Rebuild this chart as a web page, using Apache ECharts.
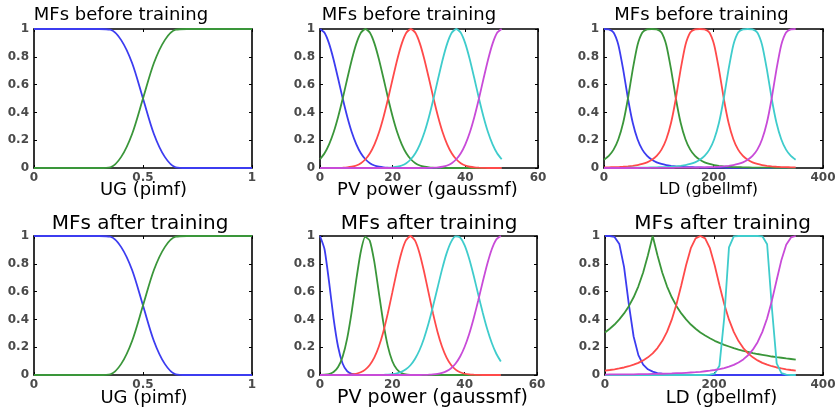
<!DOCTYPE html>
<html>
<head>
<meta charset="utf-8">
<script src="https://cdn.jsdelivr.net/npm/echarts@6/dist/echarts.min.js"></script>
<style>html,body{margin:0;padding:0;background:#fff}#c{width:839px;height:416px}</style>
</head>
<body>
<div id="c"></div>
<script>
// ---- sample positions (x) ----
const ugX = [0,0.05,0.1,0.15,0.2,0.25,0.3,0.35,0.4,0.45,0.5,0.55,0.6,0.65,0.7,0.75,0.8,0.85,0.9,0.95,1];
const pvX = [0,1.25,2.5,3.75,5,6.25,7.5,8.75,10,11.25,12.5,13.75,15,16.25,17.5,18.75,20,21.25,22.5,23.75,25,26.25,27.5,28.75,30,31.25,32.5,33.75,35,36.25,37.5,38.75,40,41.25,42.5,43.75,45,46.25,47.5,48.75,50];
const ldX = [0,8.75,17.5,26.25,35,43.75,52.5,61.25,70,78.75,87.5,96.25,105,113.75,122.5,131.25,140,148.75,157.5,166.25,175,183.75,192.5,201.25,210,218.75,227.5,236.25,245,253.75,262.5,271.25,280,288.75,297.5,306.25,315,323.75,332.5,341.25,350];

// ---- UG (pimf) before training ----
const ugLowBefore  = [1,1,1,1,1,1,1,0.995,0.92,0.755,0.5,0.245,0.08,0.005,0,0,0,0,0,0,0];
const ugHighBefore = [0,0,0,0,0,0,0,0.005,0.08,0.245,0.5,0.755,0.92,0.995,1,1,1,1,1,1,1];
// ---- UG (pimf) after training ----
const ugLowAfter  = [1,1,1,1,1,1,1,0.995,0.92,0.755,0.5,0.245,0.08,0.005,0,0,0,0,0,0,0];
const ugHighAfter = [0,0,0,0,0,0,0,0.005,0.08,0.245,0.5,0.755,0.92,0.995,1,1,1,1,1,1,1];

// ---- PV power (gaussmf) before training ----
const pvB1 = [1,0.973,0.895,0.779,0.642,0.5,0.369,0.257,0.17,0.106,0.063,0.035,0.018,0.009,0.004,0.002,0.001,0,0,0,0,0,0,0,0,0,0,0,0,0,0,0,0,0,0,0,0,0,0,0,0];
const pvB2 = [0.063,0.106,0.17,0.257,0.369,0.5,0.642,0.779,0.895,0.973,1,0.973,0.895,0.779,0.642,0.5,0.369,0.257,0.17,0.106,0.063,0.035,0.018,0.009,0.004,0.002,0.001,0,0,0,0,0,0,0,0,0,0,0,0,0,0];
const pvB3 = [0,0,0,0,0.001,0.002,0.004,0.009,0.018,0.035,0.063,0.106,0.17,0.257,0.369,0.5,0.642,0.779,0.895,0.973,1,0.973,0.895,0.779,0.642,0.5,0.369,0.257,0.17,0.106,0.063,0.035,0.018,0.009,0.004,0.002,0.001,0,0,0,0];
const pvB4 = [0,0,0,0,0,0,0,0,0,0,0,0,0,0,0.001,0.002,0.004,0.009,0.018,0.035,0.063,0.106,0.17,0.257,0.369,0.5,0.642,0.779,0.895,0.973,1,0.973,0.895,0.779,0.642,0.5,0.369,0.257,0.17,0.106,0.063];
const pvB5 = [0,0,0,0,0,0,0,0,0,0,0,0,0,0,0,0,0,0,0,0,0,0,0,0,0.001,0.002,0.004,0.009,0.018,0.035,0.063,0.106,0.17,0.257,0.369,0.5,0.642,0.779,0.895,0.973,1];

// ---- PV power (gaussmf) after training ----
const pvA1 = [1,0.905,0.671,0.408,0.203,0.083,0.028,0.008,0.002,0,0,0,0,0,0,0,0,0,0,0,0,0,0,0,0,0,0,0,0,0,0,0,0,0,0,0,0,0,0,0,0];
const pvA2 = [0,0.002,0.007,0.021,0.057,0.131,0.262,0.453,0.68,0.883,0.993,0.967,0.817,0.597,0.379,0.208,0.099,0.041,0.015,0.004,0.001,0,0,0,0,0,0,0,0,0,0,0,0,0,0,0,0,0,0,0,0];
const pvA3 = [0,0,0,0,0,0.001,0.002,0.004,0.009,0.02,0.039,0.072,0.125,0.203,0.31,0.443,0.594,0.746,0.878,0.968,1,0.968,0.878,0.746,0.594,0.443,0.31,0.203,0.125,0.072,0.039,0.02,0.009,0.004,0.002,0.001,0,0,0,0,0];
const pvA4 = [0,0,0,0,0,0,0,0,0,0,0,0,0,0,0.001,0.003,0.006,0.012,0.023,0.041,0.07,0.115,0.178,0.263,0.37,0.494,0.628,0.76,0.875,0.958,0.997,0.989,0.932,0.836,0.714,0.579,0.448,0.329,0.23,0.153,0.097];
const pvA5 = [0,0,0,0,0,0,0,0,0,0,0,0,0,0,0,0,0,0,0,0,0,0,0,0.001,0.002,0.004,0.008,0.015,0.028,0.049,0.083,0.133,0.203,0.295,0.408,0.536,0.671,0.799,0.905,0.975,1];

// ---- LD (gbellmf) before training ----
const ldB1 = [1,0.998,0.975,0.885,0.709,0.5,0.325,0.207,0.132,0.087,0.059,0.041,0.029,0.021,0.016,0.012,0.009,0.007,0.006,0.005,0.004,0.003,0.003,0.002,0.002,0.002,0.001,0.001,0.001,0.001,0.001,0.001,0.001,0,0,0,0,0,0,0,0];
const ldB2 = [0.059,0.087,0.132,0.207,0.325,0.5,0.709,0.885,0.975,0.998,1,0.998,0.975,0.885,0.709,0.5,0.325,0.207,0.132,0.087,0.059,0.041,0.029,0.021,0.016,0.012,0.009,0.007,0.006,0.005,0.004,0.003,0.003,0.002,0.002,0.002,0.001,0.001,0.001,0.001,0.001];
const ldB3 = [0.004,0.005,0.006,0.007,0.009,0.012,0.016,0.021,0.029,0.041,0.059,0.087,0.132,0.207,0.325,0.5,0.709,0.885,0.975,0.998,1,0.998,0.975,0.885,0.709,0.5,0.325,0.207,0.132,0.087,0.059,0.041,0.029,0.021,0.016,0.012,0.009,0.007,0.006,0.005,0.004];
const ldB4 = [0.001,0.001,0.001,0.001,0.001,0.002,0.002,0.002,0.003,0.003,0.004,0.005,0.006,0.007,0.009,0.012,0.016,0.021,0.029,0.041,0.059,0.087,0.132,0.207,0.325,0.5,0.709,0.885,0.975,0.998,1,0.998,0.975,0.885,0.709,0.5,0.325,0.207,0.132,0.087,0.059];
const ldB5 = [0,0,0,0,0,0,0,0,0.001,0.001,0.001,0.001,0.001,0.001,0.001,0.002,0.002,0.002,0.003,0.003,0.004,0.005,0.006,0.007,0.009,0.012,0.016,0.021,0.029,0.041,0.059,0.087,0.132,0.207,0.325,0.5,0.709,0.885,0.975,0.998,1];

// ---- LD (gbellmf) after training ----
const ldA1 = [1,1,0.993,0.943,0.776,0.508,0.277,0.143,0.075,0.041,0.024,0.014,0.009,0.006,0.004,0.003,0.002,0.001,0.001,0.001,0.001,0,0,0,0,0,0,0,0,0,0,0,0,0,0,0,0,0,0,0,0];
const ldA2 = [0.306,0.333,0.363,0.4,0.443,0.495,0.559,0.638,0.738,0.862,1,0.862,0.738,0.638,0.559,0.495,0.443,0.4,0.363,0.333,0.306,0.284,0.264,0.246,0.231,0.217,0.205,0.193,0.183,0.174,0.166,0.158,0.151,0.145,0.139,0.133,0.128,0.124,0.119,0.115,0.111];
const ldA3 = [0.032,0.036,0.041,0.047,0.054,0.063,0.074,0.087,0.105,0.127,0.156,0.194,0.244,0.31,0.398,0.511,0.646,0.789,0.912,0.983,1,0.983,0.912,0.789,0.646,0.511,0.398,0.31,0.244,0.194,0.156,0.127,0.105,0.087,0.074,0.063,0.054,0.047,0.041,0.036,0.032];
const ldA4 = [0,0,0,0,0,0,0,0,0,0,0,0,0,0,0,0,0,0,0,0,0,0,0.002,0.01,0.067,0.411,0.918,0.997,1,1,1,1,1,0.998,0.941,0.482,0.084,0.013,0.002,0,0];
const ldA5 = [0.003,0.004,0.004,0.004,0.005,0.005,0.005,0.006,0.006,0.007,0.008,0.008,0.009,0.01,0.011,0.013,0.014,0.016,0.018,0.02,0.023,0.027,0.031,0.036,0.042,0.05,0.06,0.073,0.09,0.112,0.142,0.182,0.236,0.31,0.408,0.535,0.683,0.828,0.937,0.99,1];

// ---- text ----
const titles = ['MFs before training','MFs before training','MFs before training','MFs after training','MFs after training','MFs after training'];
const axisNames = ['UG (pimf)','PV power (gaussmf)','LD (gbellmf)','UG (pimf)','PV power (gaussmf)','LD (gbellmf)'];
const xMaxes = [1, 60, 400, 1, 60, 400];
const xIntervals = [0.5, 20, 200, 0.5, 20, 200];

const mfColors = ['#3c3cf0','#3a963a','#ff4a4a','#3fcccc','#c84bd8'];

const panels = [
  {grid:{left:34,top:29,width:218,height:139}, x:ugX, ys:[ugLowBefore,ugHighBefore], smooth:0.3,
   tX:121, tY:15, tS:18, nX:143.5, nY:190, nS:18},
  {grid:{left:320,top:29,width:218,height:139}, x:pvX, ys:[pvB1,pvB2,pvB3,pvB4,pvB5], smooth:0.2,
   tX:409, tY:15, tS:18, nX:427.5, nY:190, nS:18},
  {grid:{left:604,top:29,width:219,height:139}, x:ldX, ys:[ldB1,ldB2,ldB3,ldB4,ldB5], smooth:0.2,
   tX:701.5, tY:15, tS:18, nX:708.5, nY:190, nS:16},
  {grid:{left:34,top:236,width:218,height:139}, x:ugX, ys:[ugLowAfter,ugHighAfter], smooth:0.3,
   tX:140, tY:224, tS:20, nX:144, nY:398, nS:18},
  {grid:{left:320,top:236,width:217,height:139}, x:pvX, ys:[pvA1,pvA2,pvA3,pvA4,pvA5], smooth:0.2,
   tX:429, tY:224, tS:20, nX:432.5, nY:398, nS:19},
  {grid:{left:605,top:236,width:218,height:139}, x:ldX, ys:[ldA1,ldA2,ldA3,ldA4,ldA5], smooth:false,
   tX:722.5, tY:224, tS:20, nX:721.5, nY:398, nS:18}
];

const frame = {show:true, onZero:false, lineStyle:{color:'#000', width:1.6}};
const ticks = {show:true, inside:true, length:3, lineStyle:{color:'#000', width:1}};
const lblStyle = {fontSize:12, fontWeight:'bold', fontFamily:'DejaVu Sans', color:'#4a4a4a'};

const grids = [], xAxes = [], yAxes = [], series = [], graphic = [];
panels.forEach((p, i) => {
  grids.push(Object.assign({containLabel:false, show:false}, p.grid));
  const xb = {gridIndex:i, type:'value', min:0, max:xMaxes[i], interval:xIntervals[i],
    axisLine:frame, axisTick:ticks, splitLine:{show:false}};
  xAxes.push(Object.assign({}, xb, {position:'bottom', axisLabel:Object.assign({margin:4}, lblStyle)}));
  xAxes.push(Object.assign({}, xb, {position:'top', axisLabel:{show:false}}));
  const yb = {gridIndex:i, type:'value', min:0, max:1, interval:0.2,
    axisLine:frame, axisTick:ticks, splitLine:{show:false}};
  yAxes.push(Object.assign({}, yb, {position:'left', axisLabel:Object.assign({margin:5}, lblStyle)}));
  yAxes.push(Object.assign({}, yb, {position:'right', axisLabel:{show:false}}));
  p.ys.forEach((ys, k) => {
    series.push({
      type:'line', xAxisIndex:2*i, yAxisIndex:2*i,
      data:p.x.map((v, j) => [v, ys[j]]),
      symbol:'none', showSymbol:false, smooth:p.smooth, clip:false, silent:true,
      lineStyle:{color:mfColors[k], width:1.8}, itemStyle:{color:mfColors[k]}
    });
  });
  graphic.push({type:'text', x:p.tX, y:p.tY, silent:true,
    style:{text:titles[i], fontSize:p.tS, fontFamily:'DejaVu Sans', fill:'#000',
      align:'center', verticalAlign:'middle', textAlign:'center', textVerticalAlign:'middle'}});
  graphic.push({type:'text', x:p.nX, y:p.nY, silent:true,
    style:{text:axisNames[i], fontSize:p.nS, fontFamily:'DejaVu Sans', fill:'#000',
      align:'center', verticalAlign:'middle', textAlign:'center', textVerticalAlign:'middle'}});
});

const chart = echarts.init(document.getElementById('c'), null, {renderer:'canvas'});
chart.setOption({
  animation:false,
  backgroundColor:'#fff',
  grid:grids, xAxis:xAxes, yAxis:yAxes, series:series, graphic:graphic
});
</script>
</body>
</html>
